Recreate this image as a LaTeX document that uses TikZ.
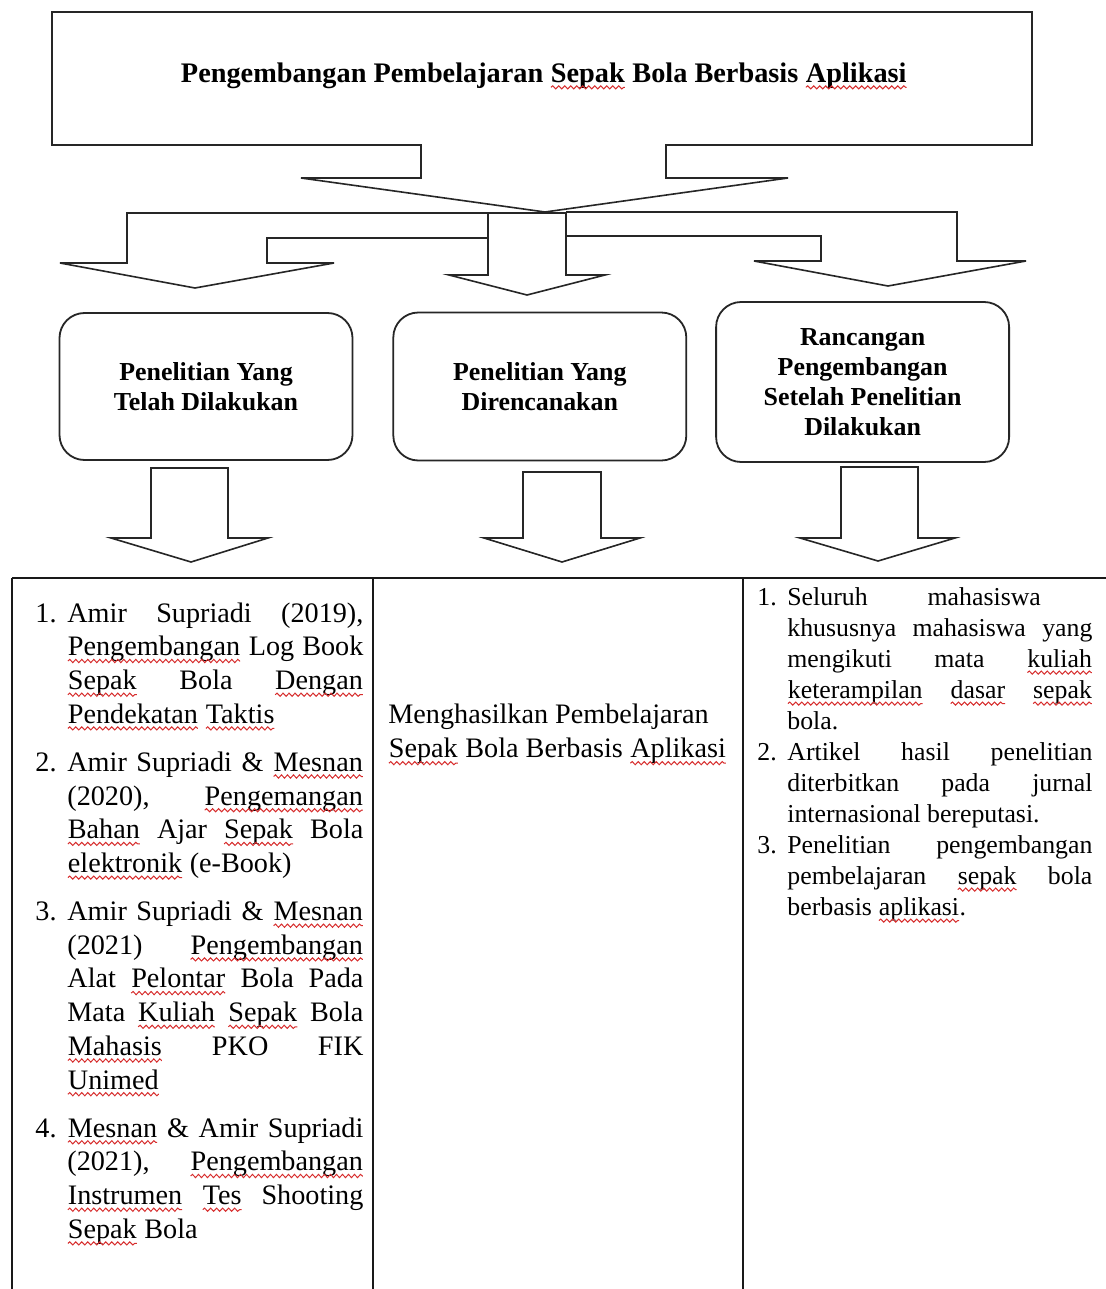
\documentclass[tikz,border=0pt]{standalone}
\usepackage{fontspec}
\setmainfont{Liberation Serif}
\usepackage{tikz}
\usetikzlibrary{arrows}
\usetikzlibrary{positioning}
\usetikzlibrary{decorations.pathmorphing}

\definecolor{spellred}{RGB}{215,45,45}
% wavy spelling mark under a word
\newcommand{\salah}[1]{\tikz[baseline=(w.base)]{\node[inner sep=0pt,outer sep=0pt] (w) {#1};
  \draw [spellred, line width=0.5pt, decorate, decoration={snake,amplitude=0.8pt,segment length=3pt}]
    ([yshift=-2.6pt]w.base west) -- ([yshift=-2.6pt]w.base east);}}
\newlength{\butirindent}
\newcommand{\butir}[1]{\par\hangindent=\butirindent\hangafter=1\noindent\makebox[\butirindent][l]{#1}}

\tikzset{
  shapeline/.style={draw=black!85, line width=0.8pt, line join=miter},
  tableline/.style={draw=black!90, line width=1pt},
  roundbox/.style={draw=black!85, line width=0.9pt, rounded corners=12.5pt,
    minimum width=146.5pt, align=center, inner sep=0pt,
    font=\bfseries\fontsize{12.95}{15}\selectfont},
  titletext/.style={inner sep=0pt, font=\bfseries\fontsize{14.15}{17}\selectfont},
  celltext/.style={anchor=north west, inner sep=0pt, align=justify},
}

\begin{document}
\begin{tikzpicture}[x=0.5pt,y=-0.5pt]

  \useasboundingbox (0,0) rectangle (1106,1289);
  \fill[white] (0,0) rectangle (1106,1289);

  % title box and its arrow
  \draw [shapeline] (421,145) -- (52,145) -- (52,12) -- (1032,12) -- (1032,145) -- (666,145)
    -- (666,178) -- (788,178) -- (545,212) -- (301,178) -- (421,178) -- cycle;
  \node [titletext] (judul) at (544,76) {Pengembangan Pembelajaran \salah{Sepak} Bola Berbasis \salah{Aplikasi}};

  % three way arrow
  \draw [shapeline] (488,213) -- (566,213) -- (566,275) -- (605,275) -- (527,295) -- (449,275) -- (488,275) -- cycle;
  \draw [shapeline] (488,213) -- (127,213) -- (127,263) -- (60,263) -- (195,288) -- (334,263) -- (267,263) -- (267,238) -- (488,238);
  \draw [shapeline] (566,212) -- (957,212) -- (957,261) -- (1026,261) -- (888,286) -- (754,261) -- (821,261) -- (821,236) -- (566,236);

  \node [roundbox, minimum height=73.5pt] (done) at (206,386.5) {Penelitian Yang\\Telah Dilakukan};
  \node [roundbox, minimum height=74pt, right=19.5pt of done] (plan) {Penelitian Yang\\Direncanakan};
  \node [roundbox, minimum height=80pt, right=14pt of plan, yshift=2.25pt] (design) {Rancangan\\Pengembangan\\Setelah Penelitian\\Dilakukan};

  % arrows down to the table
  \draw [shapeline] (151,468) -- (228,468) -- (228,538) -- (268,538) -- (191,562) -- (111,538) -- (151,538) -- cycle;
  \draw [shapeline] (523,472) -- (601,472) -- (601,538) -- (640,538) -- (562,562) -- (484,538) -- (523,538) -- cycle;
  \draw [shapeline] (841,467) -- (918,467) -- (918,538) -- (955,538) -- (878,561) -- (800,538) -- (841,538) -- cycle;

  % table
  \draw [tableline] (12,578) -- (1106,578);
  \draw [tableline] (12,578) -- (12,1289);
  \draw [tableline] (373,578) -- (373,1289);
  \draw [tableline] (743,578) -- (743,1289);

  \node [celltext, text width=164pt, font=\fontsize{14.1}{16.85}\selectfont] (done list) at (35,588) {%
    \hyphenpenalty=10000 \exhyphenpenalty=10000 \setlength{\butirindent}{16pt}%
    \butir{1.}Amir Supriadi (2019),\linebreak \salah{Pengembangan} Log Book\linebreak \salah{Sepak} Bola \salah{Dengan}\linebreak \salah{Pendekatan} \salah{Taktis}\par
    \vspace{7.2pt}
    \butir{2.}Amir Supriadi \& \salah{Mesnan}\linebreak (2020), \salah{Pengemangan}\linebreak \salah{Bahan} Ajar \salah{Sepak} Bola\linebreak \salah{elektronik} (e-Book)\par
    \vspace{7.2pt}
    \butir{3.}Amir Supriadi \& \salah{Mesnan}\linebreak (2021) \salah{Pengembangan}\linebreak Alat \salah{Pelontar} Bola Pada\linebreak Mata \salah{Kuliah} \salah{Sepak} Bola\linebreak \salah{Mahasis} PKO FIK\linebreak \salah{Unimed}\par
    \vspace{7.2pt}
    \butir{4.}\salah{Mesnan} \& Amir Supriadi\linebreak (2021), \salah{Pengembangan}\linebreak \salah{Instrumen} \salah{Tes} Shooting\linebreak \salah{Sepak} Bola\par};

  \node [celltext, align=left, font=\fontsize{14.1}{17}\selectfont] (plan text) at (388,704)
    {Menghasilkan Pembelajaran\\\salah{Sepak} Bola Berbasis \salah{Aplikasi}};

  \node [celltext, text width=167.5pt, font=\fontsize{12.9}{15.5}\selectfont] (design list) at (757,574) {%
    \hyphenpenalty=10000 \exhyphenpenalty=10000 \setlength{\butirindent}{15pt}%
    \butir{1.}Seluruh\hspace{30pt}mahasiswa\newline khususnya mahasiswa yang\linebreak mengikuti mata \salah{kuliah}\linebreak \salah{keterampilan} \salah{dasar} \salah{sepak}\linebreak bola.
    \butir{2.}Artikel hasil penelitian\linebreak diterbitkan pada jurnal\linebreak internasional bereputasi.
    \butir{3.}Penelitian pengembangan\linebreak pembelajaran \salah{sepak} bola\linebreak berbasis \salah{aplikasi}.\par};

\end{tikzpicture}
\end{document}
